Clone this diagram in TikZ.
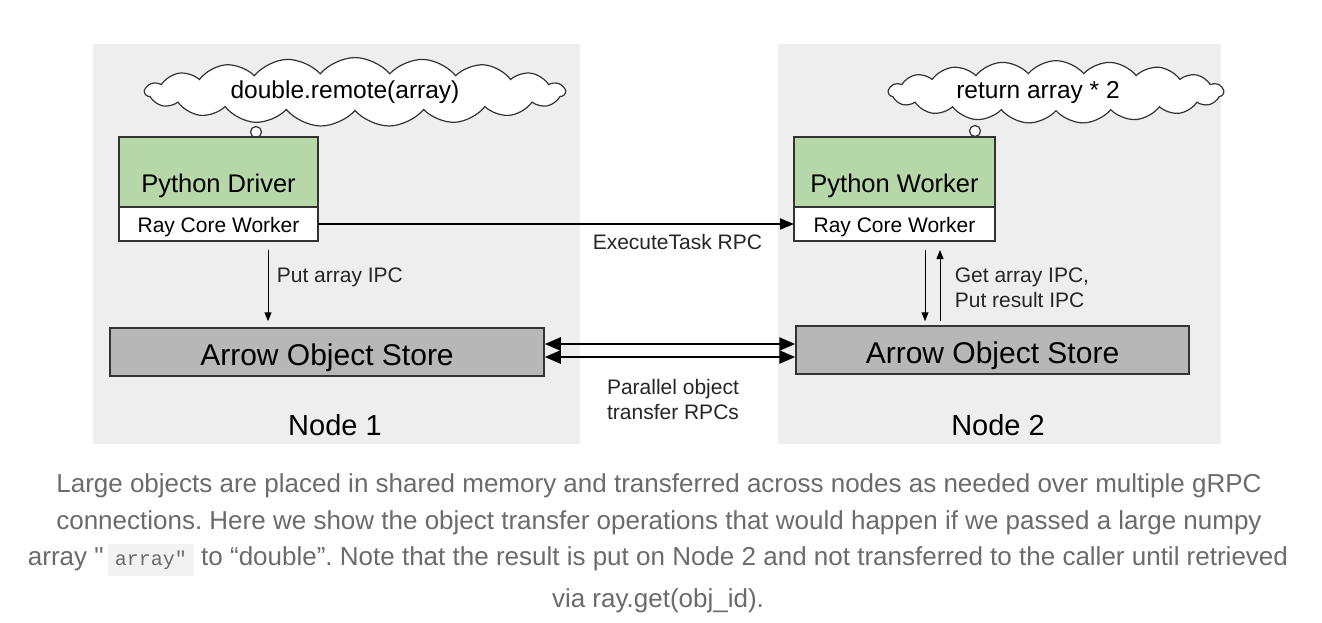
\documentclass[tikz,border=0pt]{standalone}
\usepackage{fontspec}
\setmainfont{Liberation Sans}
\setmonofont{Liberation Mono}
\usetikzlibrary{shapes.symbols,arrows.meta,positioning}
\definecolor{panel}{HTML}{EEEEEE}
\definecolor{pygreen}{HTML}{B6D7A8}
\definecolor{storegray}{HTML}{B7B7B7}
\definecolor{edge}{HTML}{333333}
\definecolor{captext}{HTML}{6B6B6B}
\definecolor{codebg}{HTML}{F2F2F2}
\frenchspacing
\begin{document}
\begin{tikzpicture}[x=1pt,y=-1pt,
  pybox/.style={draw=edge,line width=1.5pt,fill=pygreen,outer sep=0pt,inner sep=0pt,
    minimum height=70pt,text height=40pt,text depth=0pt,font=\fontsize{25.5}{28}\selectfont},
  corebox/.style={draw=edge,line width=1.5pt,fill=white,outer sep=0pt,inner sep=0pt,
    minimum height=34pt,text height=17pt,text depth=0pt,font=\fontsize{21}{24}\selectfont},
  store/.style={draw=edge,line width=1.5pt,fill=storegray,minimum height=48pt,inner sep=0pt,
    text height=26pt,text depth=0pt,font=\fontsize{30}{32}\selectfont},
  thought/.style={cloud,cloud puffs=19,cloud puff arc=100,cloud ignores aspect,draw=edge,
    line width=1.2pt,fill=white,minimum width=420pt,minimum height=50pt,
    font=\fontsize{24.5}{26}\selectfont},
  bubble/.style={draw=edge,line width=1.2pt,fill=white},
  small/.style={font=\fontsize{21}{25}\selectfont,text=black!85},
  caption/.style={font=\fontsize{26}{28}\selectfont,text=captext},
  ipc/.style={line width=1pt,-{Triangle[length=9pt,width=7pt]}},
  rpc/.style={line width=2pt,-{Triangle[length=14pt,width=11pt]}},
  bulk/.style={line width=2.5pt,{Triangle[length=16pt,width=13pt]}-{Triangle[length=16pt,width=13pt]}}]
\useasboundingbox (0,0) rectangle (1322,622);
\fill[white] (0,0) rectangle (1322,622);
% node panels
\fill[panel] (93,44) rectangle (580,444);
\fill[panel] (778,44) rectangle (1221,444);

% node 1
\node[thought] (call1) at (355,92) {double.remote(array)\hspace*{20pt}};
\draw[bubble] (256,132) circle (5.5);
\draw[bubble] (223,146) circle (4.2);
\draw[bubble] (197,157) circle (2.4);
\node[pybox,minimum width=199pt] (driver) at (218.5,172) {Python Driver};
\node[corebox,minimum width=199pt,below=0pt of driver] (rcw1) {Ray Core Worker};
\node[store,minimum width=434pt] (store1) at (327,352) {Arrow Object Store};
\node[font=\fontsize{29}{30}\selectfont] (n1) at (335,425) {Node 1};

% node 2
\node[thought,minimum width=335pt] (call2) at (1056,92) {return array * 2\hspace*{36pt}};
\draw[bubble] (975,131) circle (5.5);
\draw[bubble] (948,146) circle (4.2);
\draw[bubble] (929,157) circle (2.4);
\node[pybox,minimum width=201pt] (worker) at (894.5,172) {Python Worker};
\node[corebox,minimum width=201pt,below=0pt of worker] (rcw2) {Ray Core Worker};
\node[store,minimum width=393pt] (store2) at (992.5,350) {Arrow Object Store};
\node[font=\fontsize{29}{30}\selectfont] (n2) at (998,425) {Node 2};

% connectors
\draw[rpc] (rcw1.east) -- (rcw2.west)
  node[small,pos=.755,below=6pt] {ExecuteTask RPC};
\draw[ipc,shorten <=9pt,shorten >=6pt] ([xshift=49.5pt]rcw1.south)
  -- ([xshift=49.5pt]rcw1.south |- store1.north)
  node[small,pos=.42,right=5pt] {Put array IPC};
\draw[ipc,shorten <=9pt,shorten >=4pt] ([xshift=30.5pt]rcw2.south)
  -- ([xshift=30.5pt]rcw2.south |- store2.north);
\draw[ipc,shorten <=4pt,shorten >=9pt] ([xshift=45.5pt]rcw2.south |- store2.north)
  -- ([xshift=45.5pt]rcw2.south)
  node[small,pos=.45,right=11pt,align=left] {Get array IPC,\\Put result IPC};
\draw[bulk] ([yshift=8pt]store1.east) -- ([yshift=8pt]store1.east -| store2.west);
\draw[bulk] ([yshift=-5pt]store1.east) -- ([yshift=-5pt]store1.east -| store2.west);
\node[small,align=center] (par) at (673,399) {Parallel object\\transfer RPCs};

% caption
\node[caption] (cap1) at (659,486) {Large objects are placed in shared memory and transferred across nodes as needed over multiple gRPC};
\node[caption] (cap2) at (659,523) {connections. Here we show the object transfer operations that would happen if we passed a large numpy};
\node[caption] (cap3) at (658,560) {array \textquotedbl\,{\setlength{\fboxsep}{7pt}\colorbox{codebg}{\fontsize{20}{22}\selectfont\ttfamily array\textquotedbl}}\ to “double”. Note that the result is put on Node 2 and not transferred to the caller until retrieved};
\node[caption] (cap4) at (658,601) {via ray.get(obj\_id).};
\end{tikzpicture}
\end{document}
